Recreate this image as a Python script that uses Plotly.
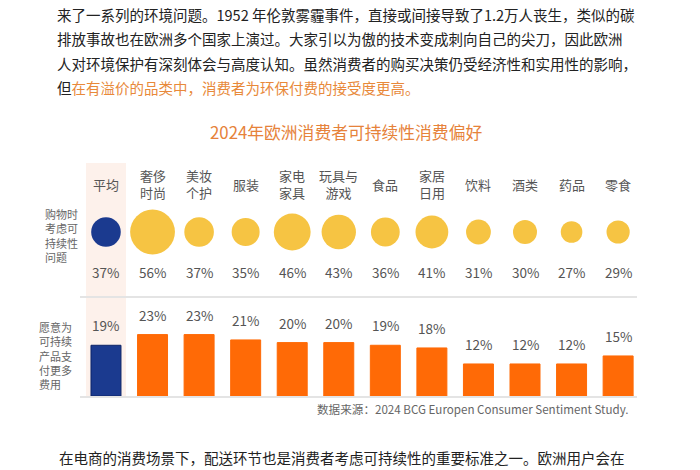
import plotly.graph_objects as go

W, H = 700, 470

# ---- data ----
categories = ["平均", "奢侈时尚", "美妆个护", "服装", "家电家具", "玩具与游戏",
              "食品", "家居日用", "饮料", "酒类", "药品", "零食"]
category_labels = ["平均", "奢侈<br>时尚", "美妆<br>个护", "服装", "家电<br>家具", "玩具与<br>游戏",
                   "食品", "家居<br>日用", "饮料", "酒类", "药品", "零食"]
consider_pct = [37, 56, 37, 35, 46, 43, 36, 41, 31, 30, 27, 29]
pay_more_pct = [19, 23, 23, 21, 20, 20, 19, 18, 12, 12, 12, 15]

title_text = "2024年欧洲消费者可持续性消费偏好"
row1_label = "购物时<br>考虑可<br>持续性<br>问题"
row2_label = "愿意为<br>可持续<br>产品支<br>付更多<br>费用"
source_text = "数据来源：2024 BCG Europen Consumer Sentiment Study."
para_lines = [
    "来了一系列的环境问题。1952 年伦敦雾霾事件，直接或间接导致了1.2万人丧生，类似的碳",
    "排放事故也在欧洲多个国家上演过。大家引以为傲的技术变成刺向自己的尖刀，因此欧洲",
    "人对环境保护有深刻体会与高度认知。虽然消费者的购买决策仍受经济性和实用性的影响，",
    "但<span style='color:#E8893A'>在有溢价的品类中，消费者为环保付费的接受度更高。</span>",
]
bottom_line = "在电商的消费场景下，配送环节也是消费者考虑可持续性的重要标准之一。欧洲用户会在"

FONT = "Noto Sans CJK SC"
NAVY = "#1B3A8F"
YELLOW = "#F6C443"
ORANGE = "#FF6A06"


def px(x):
    return x / W


def py(y):
    return 1 - y / H


idx = list(range(len(categories)))
bubble_colors = [NAVY] + [YELLOW] * (len(categories) - 1)
bar_colors = [NAVY] + [ORANGE] * (len(categories) - 1)
bar_line = ["#0E2467"] + [ORANGE] * (len(categories) - 1)

fig = go.Figure()

fig.add_trace(go.Scatter(
    x=idx, y=[0] * len(idx), mode="markers",
    marker=dict(size=[v * 0.8 for v in consider_pct], color=bubble_colors,
                line=dict(width=0), opacity=1),
    xaxis="x", yaxis="y", hoverinfo="skip", showlegend=False,
))

fig.add_trace(go.Bar(
    x=idx, y=pay_more_pct, marker=dict(color=bar_colors, line=dict(color=bar_line, width=1)),
    xaxis="x", yaxis="y2", hoverinfo="skip", showlegend=False,
))

ann = []
# paragraph
for i, line in enumerate(para_lines):
    ann.append(dict(x=px(55), y=py(15 + 24 * i), xref="paper", yref="paper", text=line,
                    xanchor="left", yanchor="middle", showarrow=False,
                    font=dict(family=FONT, size=14.5, color="#222222")))
# title
ann.append(dict(x=px(346), y=py(132), xref="paper", yref="paper", text=title_text,
                xanchor="center", yanchor="middle", showarrow=False,
                font=dict(family=FONT, size=16.8, color="#E6823A")))
# category labels
for i, lab in enumerate(category_labels):
    ann.append(dict(x=i, y=py(184), xref="x", yref="paper", text=lab,
                    xanchor="center", yanchor="middle", showarrow=False,
                    font=dict(family=FONT, size=13, color="#555555")))
# bubble percent labels
for i, v in enumerate(consider_pct):
    ann.append(dict(x=i, y=-40, xref="x", yref="y", text=f"{v}%",
                    xanchor="center", yanchor="middle", showarrow=False,
                    font=dict(family=FONT, size=13.5, color="#555555")))
# bar labels
for i, v in enumerate(pay_more_pct):
    ann.append(dict(x=i, y=v, xref="x", yref="y2", text=f"{v}%",
                    xanchor="center", yanchor="bottom", yshift=8, showarrow=False,
                    font=dict(family=FONT, size=13.5, color="#555555")))
# row labels
ann.append(dict(x=px(43), y=py(236), xref="paper", yref="paper", text=row1_label,
                xanchor="left", yanchor="middle", align="left", showarrow=False,
                font=dict(family=FONT, size=11, color="#666666")))
ann.append(dict(x=px(37), y=py(355), xref="paper", yref="paper", text=row2_label,
                xanchor="left", yanchor="middle", align="left", showarrow=False,
                font=dict(family=FONT, size=11, color="#666666")))
# source
ann.append(dict(x=px(630), y=py(409), xref="paper", yref="paper", text=source_text,
                xanchor="right", yanchor="middle", showarrow=False,
                font=dict(family=FONT, size=11.6, color="#666666")))
# bottom text
ann.append(dict(x=px(57), y=py(457), xref="paper", yref="paper", text=bottom_line,
                xanchor="left", yanchor="middle", showarrow=False,
                font=dict(family=FONT, size=14.5, color="#222222")))

shapes = [
    dict(type="rect", xref="x", yref="paper", x0=-0.43, x1=0.43, y0=py(396), y1=py(163),
         fillcolor="#FDF1EB", line=dict(width=0), layer="below"),
    dict(type="line", xref="paper", yref="paper", x0=px(80), x1=px(637), y0=py(297), y1=py(297),
         line=dict(color="#E4E4E4", width=2), layer="above"),
    dict(type="line", xref="paper", yref="paper", x0=px(80), x1=px(637), y0=py(397), y1=py(397),
         line=dict(color="#E4E4E4", width=2), layer="above"),
]

axis_off = dict(showgrid=False, zeroline=False, showticklabels=False, showline=False, ticks="")

fig.update_layout(
    width=W, height=H, margin=dict(l=0, r=0, t=0, b=0),
    paper_bgcolor="white", plot_bgcolor="rgba(0,0,0,0)",
    xaxis=dict(range=[-0.5, 11.5], domain=[px(82.7), px(641.4)], fixedrange=True, **axis_off),
    yaxis=dict(range=[-58, 62], domain=[py(290), py(170)], fixedrange=True, **axis_off),
    yaxis2=dict(range=[0, 96 / 2.67], domain=[py(396), py(300)], anchor="x", fixedrange=True, **axis_off),
    bargap=0.356,
    annotations=ann, shapes=shapes, showlegend=False,
)

fig.write_html("out.html", config={"displayModeBar": False})
